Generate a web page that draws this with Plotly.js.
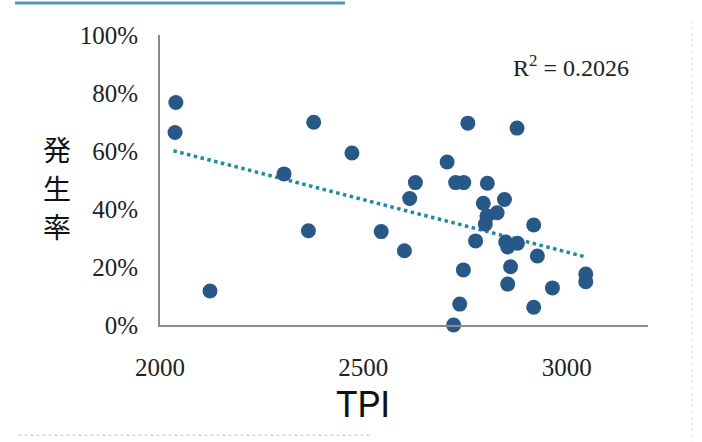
<!DOCTYPE html>
<html>
<head>
<meta charset="utf-8">
<script src="https://cdn.plot.ly/plotly-3.0.1.min.js"></script>
<style>html,body{margin:0;padding:0;background:#fff;}#chart{width:702px;height:442px;}</style>
</head>
<body>
<div id="chart"></div>
<script>
// TPI values (x)
const tpi = [2039, 2037, 2123, 2305, 2365, 2378, 2472, 2544, 2601, 2614, 2628, 2706,
  2727, 2747, 2757, 2805, 2795, 2847, 2829, 2804, 2800, 2919, 2776, 2850, 2879, 2855,
  2928, 2862, 2746, 3047, 3047, 2855, 2965, 2737, 2919, 2722, 2878];
// 発生率 (%) values (y)
const rate = [76.7, 66.4, 11.7, 52.1, 32.5, 69.9, 59.3, 32.2, 25.6, 43.6, 49.1, 56.2,
  49.1, 49.1, 69.6, 48.9, 42.0, 43.3, 38.7, 37.6, 34.8, 34.5, 29.0, 28.6, 28.2, 26.9,
  23.8, 20.1, 19.0, 17.6, 14.9, 14.1, 12.8, 7.2, 6.1, 0, 67.9];
// linear trend endpoints
const trendX = [2033, 3049];
const trendY = [60.1, 23.4];
const xTicks = [2000, 2500, 3000];
const yTicks = [0, 20, 40, 60, 80, 100];
const r2Text = 'R<sup>2</sup> = 0.2026';
const xTitle = 'TPI';
const yTitleChars = ['発', '生', '率'];

const serif = '"Liberation Serif", "DejaVu Serif", serif';

const traces = [
  {
    x: trendX, y: trendY, type: 'scatter', mode: 'lines',
    line: {color: 'rgb(32,138,160)', width: 3.5, dash: 'dot'},
    hoverinfo: 'skip', cliponaxis: false
  },
  {
    x: tpi, y: rate, type: 'scatter', mode: 'markers',
    marker: {size: 15, color: 'rgb(40,88,136)', line: {width: 0}},
    cliponaxis: false
  }
];

const yTitlePos = [0.607, 0.474, 0.341];
const annotations = [
  {text: r2Text, xref: 'paper', yref: 'paper', x: 0.842, y: 0.893,
   xanchor: 'center', yanchor: 'middle', showarrow: false,
   font: {family: serif, size: 24, color: '#222'}},
  {text: xTitle, xref: 'x', yref: 'paper', x: 2500, y: -0.276,
   xanchor: 'center', yanchor: 'middle', showarrow: false,
   font: {family: 'Roboto, "Liberation Sans", sans-serif', size: 36, color: '#111'}}
];
yTitleChars.forEach((c, i) => annotations.push({
  text: c, xref: 'paper', yref: 'paper', x: -0.211, y: yTitlePos[i],
  xanchor: 'center', yanchor: 'middle', showarrow: false,
  height: 34, borderpad: 0,
  font: {family: '"Noto Sans CJK JP", sans-serif', size: 28, color: '#111'}
}));

const layout = {
  width: 702, height: 442,
  margin: {l: 160, r: 54, t: 35, b: 117},
  paper_bgcolor: '#fff', plot_bgcolor: '#fff',
  showlegend: false,
  xaxis: {
    range: [2000, 3200], tickvals: xTicks, ticktext: xTicks.map(String),
    showgrid: false, zeroline: false, showline: true, linecolor: '#8a8a8a', linewidth: 2,
    ticks: '', ticklabelstandoff: 19,
    tickfont: {family: serif, size: 25, color: '#222'}
  },
  yaxis: {
    range: [0, 100], tickvals: yTicks, ticktext: yTicks.map(v => v + '%'),
    showgrid: false, zeroline: false, showline: true, linecolor: '#8a8a8a', linewidth: 2,
    ticks: '', ticklabelstandoff: 15,
    tickfont: {family: serif, size: 25, color: '#222'}
  },
  annotations: annotations,
  shapes: [
    {type: 'line', xref: 'paper', yref: 'paper', x0: -0.297, x1: 0.379, y0: 1.11, y1: 1.11,
     line: {color: 'rgb(72,152,182)', width: 3}},
    {type: 'line', xref: 'paper', yref: 'paper', x0: -0.29, x1: 0.43, y0: -0.38, y1: -0.38,
     line: {color: '#bbb', width: 1, dash: 'dot'}},
    {type: 'line', xref: 'paper', yref: 'paper', x0: 1.09, x1: 1.09, y0: 1.05, y1: -0.4,
     line: {color: '#ddd', width: 1, dash: 'dot'}}
  ]
};

Plotly.newPlot('chart', traces, layout, {displayModeBar: false, staticPlot: true});
</script>
</body>
</html>
